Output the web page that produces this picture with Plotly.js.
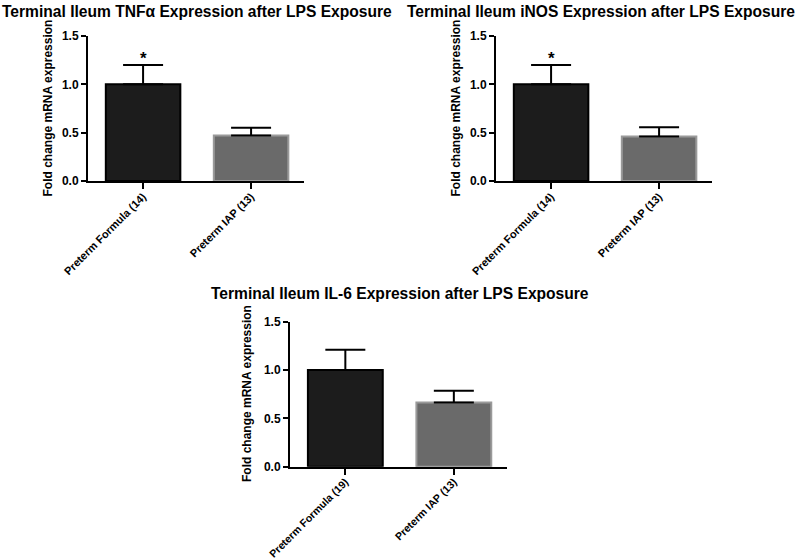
<!DOCTYPE html>
<html>
<head>
<meta charset="utf-8">
<script src="https://cdn.plot.ly/plotly-3.0.1.min.js"></script>
<style>html,body{margin:0;padding:0;background:#fff}#chart{width:800px;height:559px}</style>
</head>
<body>
<div id="chart"></div>
<script>
const categoriesA = ["Preterm Formula (14)", "Preterm IAP (13)"];
const categoriesB = ["Preterm Formula (19)", "Preterm IAP (13)"];
const tnfMean = [1.0, 0.47];
const tnfSem = [0.20, 0.08];
const inosMean = [1.0, 0.46];
const inosSem = [0.20, 0.095];
const il6Mean = [1.0, 0.665];
const il6Sem = [0.21, 0.12];
const titles = [
  "Terminal Ileum TNF\u03b1 Expression after LPS Exposure",
  "Terminal Ileum iNOS Expression after LPS Exposure",
  "Terminal Ileum IL-6 Expression after LPS Exposure"
];
const yTitle = "Fold change mRNA expression";
const starLabels = ["*", ""];

const FONT = "Liberation Sans, Arial, sans-serif";
const fills = ["#1c1c1c", "#6a6a6a"];
const outlines = ["#000000", "#9a9a9a"];

function barTrace(cats, vals, errs, xa, ya) {
  return {
    type: "bar", x: cats, y: vals, xaxis: xa, yaxis: ya,
    width: 0.69,
    marker: {color: fills, line: {color: outlines, width: 2}},
    error_y: {type: "data", array: errs, arrayminus: errs.map(() => 0), symmetric: false,
              color: "#000", thickness: 2, width: 20},
    showlegend: false, hoverinfo: "none"
  };
}

const data = [
  barTrace(categoriesA, tnfMean, tnfSem, "x", "y"),
  barTrace(categoriesA, inosMean, inosSem, "x2", "y2"),
  barTrace(categoriesB, il6Mean, il6Sem, "x3", "y3")
];

function xAx(domain, anchor, fs) {
  return {domain: domain, anchor: anchor, type: "category", range: [-0.51, 1.49],
    showline: true, linecolor: "#000", linewidth: 2, ticks: "outside", ticklen: 6, tickwidth: 2,
    tickcolor: "#000", tickangle: -45, showgrid: false, zeroline: false, ticklabelstandoff: -3,
    tickfont: {family: FONT, size: fs, color: "#000", weight: "bold"}};
}
function yAx(domain, anchor) {
  return {domain: domain, anchor: anchor, range: [0, 1.5], tickvals: [0, 0.5, 1.0, 1.5],
    tickformat: ".1f", showline: true, linecolor: "#000", linewidth: 2, ticks: "outside",
    ticklen: 5, tickwidth: 2, tickcolor: "#000", showgrid: false, zeroline: false,
    tickfont: {family: FONT, size: 12, color: "#000", weight: "bold"}};
}

const yd1 = [(559 - 181) / 559, (559 - 36) / 559];
const yd3 = [(559 - 466.7) / 559, (559 - 321.7) / 559];

const annotations = [];
const titleSpecs = [[0, 11, "left"], [601, 11, "center"], [400, 293, "center"]];
titles.forEach((t, i) => {
  annotations.push({text: t, xref: "paper", yref: "paper", x: titleSpecs[i][0] / 800,
    y: 1 - titleSpecs[i][1] / 559, xanchor: titleSpecs[i][2], yanchor: "middle", showarrow: false,
    font: {family: FONT, size: 15.6, color: "#000", weight: "bold"}});
});
[[47, 108.5], [455, 108.5], [247, 394]].forEach(p => {
  annotations.push({text: yTitle, xref: "paper", yref: "paper", x: p[0] / 800, y: 1 - p[1] / 559,
    xanchor: "center", yanchor: "middle", textangle: -90, showarrow: false,
    font: {family: FONT, size: 12, color: "#000", weight: "bold"}});
});
[["x", "y", categoriesA], ["x2", "y2", categoriesA]].forEach(s => {
  s[2].forEach((c, i) => {
    if (starLabels[i]) annotations.push({text: starLabels[i], xref: s[0], yref: s[1], x: c, y: 1.27,
      showarrow: false, font: {family: FONT, size: 17, color: "#000", weight: "bold"}});
  });
});

const layout = {
  width: 800, height: 559,
  margin: {l: 0, r: 0, t: 0, b: 0},
  paper_bgcolor: "#fff", plot_bgcolor: "#fff",
  bargap: 0.31,
  xaxis: xAx([88 / 800, 304 / 800], "y", 11),
  yaxis: yAx(yd1, "x"),
  xaxis2: xAx([496 / 800, 712 / 800], "y2", 11),
  yaxis2: yAx(yd1, "x2"),
  xaxis3: xAx([290 / 800, 507 / 800], "y3", 10.6),
  yaxis3: yAx(yd3, "x3"),
  annotations: annotations
};

Plotly.newPlot("chart", data, layout, {staticPlot: true, displayModeBar: false});
</script>
</body>
</html>
